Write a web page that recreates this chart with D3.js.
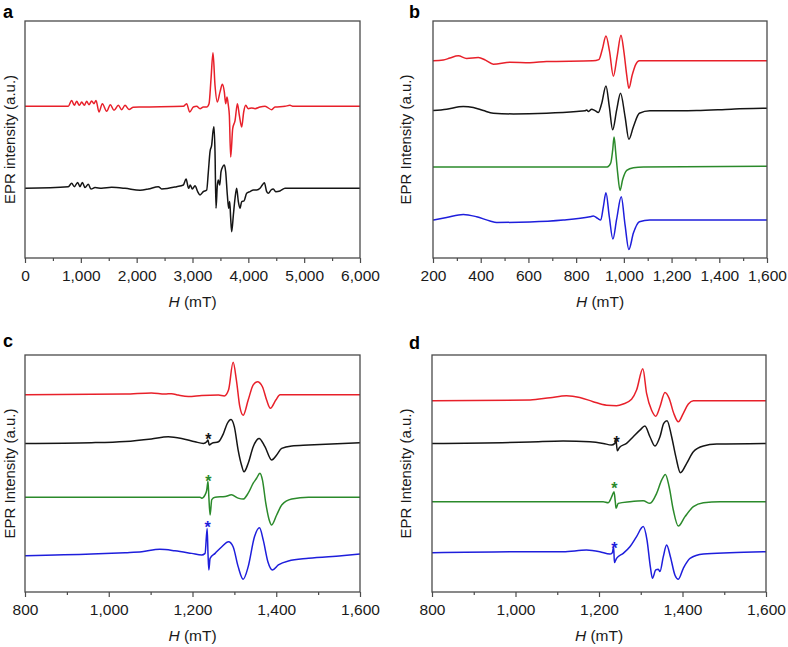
<!DOCTYPE html>
<html><head><meta charset="utf-8">
<script src="https://cdn.jsdelivr.net/npm/d3@7"></script>
<style>body{margin:0;background:#fff} svg{display:block} text{font-family:Arial,"Liberation Sans",sans-serif}</style>
</head><body><svg id="c" width="788" height="647"></svg>
<script>
// ---------- DATA (H in mT, intensity in a.u.) ----------
const aTicks = [0,1000,2000,3000,4000,5000,6000];
const bTicks = [200,400,600,800,1000,1200,1400,1600];
const cTicks = [800,1000,1200,1400,1600];
const dTicks = [800,1000,1200,1400,1600];

const aOffsets = [64, 29.4];
const aRed = [[0,0],[776,0],[836,2.5],[884,0.4],[925,2.1],[973,0.4],[1015,1.8],[1063,0.4],[1104,2.1],[1146,0.7],[1194,2.2],[1236,1.1],[1272,2.5],[1325,-2.4],[1385,1.1],[1463,-2.1],[1528,0.7],[1594,-1.7],[1672,0.4],[1731,-1.4],[1791,0.4],[1863,-1.3],[1940,-0.4],[2090,-0.3],[2836,0],[2895,1.1],[2950,-2.4],[3015,-0.3],[3075,0],[3135,-1],[3194,-0.3],[3254,-0.3],[3296,1.1],[3332,11.7],[3367,22.6],[3403,8.9],[3445,1.8],[3493,6.1],[3535,9.3],[3570,6.1],[3594,1.1],[3618,3.9],[3642,0.4],[3660,-3.8],[3684,-21.4],[3720,-9.4],[3762,-6.0],[3804,1.1],[3839,-3.8],[3881,-8.7],[3917,-2.4],[3953,0.4],[4000,-1],[4060,-0.7],[4120,-1],[4209,-0.3],[4299,0],[4418,-1.4],[4478,-0.3],[4657,0],[4746,0.4],[4806,0],[6000,0]];
const aBlack = [[0,0],[776,0.7],[836,2.1],[884,0.7],[943,2.5],[985,0.7],[1027,2.5],[1075,0.3],[1134,1.7],[1182,-0.3],[1254,0.3],[1373,0],[1552,0.4],[1791,0],[2060,-0.8],[2209,-0.3],[2388,0.7],[2448,-0.3],[2716,0.7],[2836,1.4],[2885,3.9],[2930,0],[2960,1.4],[2997,-0.3],[3045,1.1],[3093,-1.4],[3135,-2.8],[3194,-1.4],[3254,-0.7],[3284,7.0],[3314,15.5],[3344,18.3],[3367,23.9],[3385,26.0],[3403,15.5],[3421,-8.4],[3445,1.4],[3463,3.5],[3487,1.4],[3511,7.0],[3541,9.1],[3570,9.8],[3594,7.0],[3624,-2.8],[3648,-8.4],[3666,-5.6],[3684,-12.7],[3702,-18.3],[3732,-11.2],[3762,-4.2],[3791,0],[3821,-5.6],[3851,-8.4],[3881,-5.6],[3923,-5.3],[3970,-2.1],[4030,-1.4],[4090,-0.7],[4150,-0.7],[4209,0],[4251,1.4],[4287,2.4],[4329,-1.4],[4359,-2.1],[4406,-0.7],[4448,-0.3],[4490,-1.4],[4567,-1.1],[4657,0],[6000,0]];

const bOffsets = [83.2, 62.2, 38.4, 16.0];
const bRed = [[200,0],[243,0.3],[271,1.2],[306,2.1],[341,1.0],[390,1.4],[420,0.3],[453,-1.4],[523,-0.6],[606,-0.8],[676,-0.3],[870,0],[895,0.5],[910,5],[925,10.5],[940,4],[956,-6.5],[972,2],[988,10.8],[1000,4],[1012,-6],[1021,-11.6],[1035,-6],[1050,-1.5],[1065,0],[1600,0]];
const bBlack = [[200,0],[257,0.6],[327,1.7],[369,1.3],[411,0],[453,-1.1],[537,-1.4],[676,-1.1],[802,-0.4],[837,-0.1],[844,0.3],[852,-0.4],[865,0.6],[879,0],[893,-0.8],[907,3.0],[925,10.4],[939,1.7],[953,-8.1],[970,0.3],[986,7.3],[1005,-2.5],[1021,-12.1],[1040,-6.8],[1065,-1.1],[1109,-0.1],[1305,0],[1450,0.6],[1584,1.0],[1600,1.0]];
const bGreen = [[200,0],[930,0],[945,1.7],[953,7],[959,12.7],[966,6],[974,-2.5],[984,-9.9],[995,-5.3],[1012,-1.4],[1040,-0.3],[1082,0],[1600,0.3]];
const bBlue = [[200,0],[257,1.1],[327,2.4],[383,1.4],[439,-0.4],[467,-1.0],[606,-0.8],[746,0],[858,1.4],[872,1.7],[890,0.7],[903,0],[914,5.6],[925,11.5],[939,1.4],[954,-8.0],[970,0.5],[989,9.8],[1005,-2],[1021,-12.4],[1040,-5.5],[1065,-0.7],[1109,0],[1600,0]];

const cOffsets = [83.2, 62.7, 40.0, 15.3];
const cRed = [[800,0],[1039,0.3],[1102,0.8],[1134,0.3],[1150,0.5],[1166,-0.1],[1190,-0.7],[1222,-0.3],[1262,-0.1],[1276,-0.5],[1286,2],[1297,13.7],[1305,6],[1313,-5],[1321,-8.6],[1333,-2.2],[1345,4.2],[1355,5.5],[1367,3.4],[1377,-2.2],[1386,-5.7],[1399,-2.2],[1409,0],[1600,0]];
const cBlack = [[800,0],[959,0.3],[1039,0.8],[1102,1.9],[1142,2.8],[1174,2.1],[1206,0.7],[1226,0],[1234,0.7],[1237,1.4],[1240,-0.7],[1246,0],[1262,0.7],[1274,4.2],[1283,8.4],[1292,10.1],[1300,7],[1309,-2.8],[1317,-9.1],[1323,-12.0],[1333,-8.4],[1345,-1.4],[1359,2.1],[1373,-1.4],[1389,-7.0],[1401,-4.9],[1413,-2.1],[1437,-1.1],[1477,-0.7],[1600,0.3]];
const cGreen = [[800,0],[1218,0],[1222,-0.4],[1230,1],[1234,3],[1237,6.6],[1239,0.3],[1242,-7.5],[1246,-1],[1254,0],[1278,0.3],[1293,1],[1309,-0.4],[1321,-0.8],[1333,1.7],[1345,5.9],[1353,8],[1361,10.1],[1367,7.3],[1375,-2.5],[1383,-9.5],[1389,-11.7],[1401,-7.5],[1413,-3.3],[1437,-0.8],[1477,0],[1600,0]];
const cBlue = [[800,0],[959,0.7],[1039,1.3],[1079,1.7],[1122,2.7],[1158,2.1],[1198,1],[1222,0.3],[1230,1],[1235,11.5],[1237,1],[1239,-6.0],[1242,-1.1],[1254,1],[1270,3.8],[1286,5.9],[1297,3.8],[1309,-4.6],[1321,-9.9],[1333,-4.6],[1348,8.0],[1360,11.8],[1369,6.6],[1380,-2.5],[1391,-6.0],[1405,-3.9],[1429,-2.2],[1477,-1.1],[1556,0],[1600,0.7]];
const cStars = [[1238,65.8,1],[1238,48.1,2],[1236,28.7,3]];

const dOffsets = [80.7, 62.7, 38.1, 16.6];
const dRed = [[800,0],[1035,0.3],[1083,1.3],[1122,2.1],[1154,1.4],[1186,-0.4],[1218,-1.9],[1242,-2.1],[1258,-1.4],[1278,0.6],[1290,4.5],[1305,13.5],[1314,3.1],[1326,-4.0],[1336,-6.5],[1346,-2.5],[1358,3.5],[1368,1],[1379,-5.3],[1390,-8.9],[1402,-5.3],[1414,-1.4],[1426,0],[1600,0]];
const dBlack = [[800,0],[1035,0.6],[1114,1.0],[1178,0.7],[1210,0],[1230,-0.7],[1238,0],[1240,2.1],[1244,-3.1],[1249,-1.7],[1266,0],[1282,2.8],[1298,5.6],[1310,7.3],[1322,2.8],[1334,-1.1],[1346,2.8],[1355,8.4],[1363,9.6],[1374,2.8],[1384,-5.6],[1395,-12.4],[1410,-8.4],[1426,-3.5],[1450,-1.1],[1482,-0.3],[1600,0]];
const dGreen = [[800,0],[1210,0],[1222,-0.4],[1226,0.4],[1232,2.8],[1236,4.2],[1239,0],[1241,-2.8],[1246,-0.7],[1274,0],[1306,0.4],[1322,-0.7],[1338,3.5],[1350,9.1],[1359,11.5],[1368,6.3],[1378,-3.5],[1390,-10.3],[1406,-6.3],[1426,-2.1],[1450,-0.4],[1490,0],[1600,0]];
const dBlue = [[800,0],[1035,0.4],[1114,0.4],[1170,1.1],[1202,0.4],[1226,-0.6],[1232,0],[1235,2.5],[1237,-4.2],[1242,-2.4],[1258,-0.3],[1274,2.5],[1290,6.8],[1306,11.0],[1315,5.3],[1323,-6],[1328,-10.8],[1336,-7.3],[1342,-7],[1346,-8],[1354,-1.7],[1362,3.2],[1371,-1.7],[1382,-9.5],[1390,-11.2],[1402,-6.6],[1418,-2.4],[1450,-0.6],[1513,0],[1600,0.4]];
const dStars = [[1242,64.6,1],[1237,45.0,2],[1237,19.8,3]];

// ---------- LAYOUT / STYLE ----------
const colors = ["#e8202a","#151515","#2b8a2b","#1e1edc"];
const panels = [
  {label:"a", lx:3, ly:18, x0:25, x1:360, y0:21, y1:258, domain:[0,6000], ticks:aTicks, minorStep:500,
   series:[aRed,aBlack], offsets:aOffsets, cols:[0,1], stars:[], ylab:"EPR intensity (a.u.)", ylx:10},
  {label:"b", lx:409, ly:18, x0:433, x1:767, y0:21, y1:258, domain:[200,1600], ticks:bTicks, minorStep:100,
   series:[bRed,bBlack,bGreen,bBlue], offsets:bOffsets, cols:[0,1,2,3], stars:[], ylab:"EPR Intensity (a.u.)", ylx:406},
  {label:"c", lx:3, ly:347, x0:25, x1:360, y0:355, y1:592, domain:[800,1600], ticks:cTicks, minorStep:100,
   series:[cRed,cBlack,cGreen,cBlue], offsets:cOffsets, cols:[0,1,2,3], stars:cStars, ylab:"EPR Intensity (a.u.)", ylx:10},
  {label:"d", lx:409, ly:349, x0:432, x1:766, y0:355, y1:592, domain:[800,1600], ticks:dTicks, minorStep:100,
   series:[dRed,dBlack,dGreen,dBlue], offsets:dOffsets, cols:[0,1,2,3], stars:dStars, ylab:"EPR Intensity (a.u.)", ylx:406}
];

const svg = d3.select("#c");
const fmt = d3.format(",");
const frameCol = "#4a4a4a";

panels.forEach(p => {
  const g = svg.append("g");
  const x = d3.scaleLinear().domain(p.domain).range([p.x0, p.x1]);
  const y = d3.scaleLinear().domain([0,100]).range([p.y1, p.y0]);

  const clipId = "clip" + p.label;
  svg.append("clipPath").attr("id", clipId).append("rect")
    .attr("x", p.x0).attr("y", p.y0).attr("width", p.x1 - p.x0).attr("height", p.y1 - p.y0);
  p.series.forEach((s, i) => {
    const off = p.offsets[i];
    const line = d3.line().x(d => x(d[0])).y(d => y(off + d[1])).curve(d3.curveMonotoneX);
    g.append("path").datum(s).attr("d", line)
      .attr("fill","none").attr("stroke", colors[p.cols[i]]).attr("stroke-width",1.5)
      .attr("stroke-linejoin","round").attr("clip-path","url(#"+clipId+")");
  });

  p.stars.forEach(st => {
    g.append("text").attr("x", x(st[0])).attr("y", y(st[1]) + 9)
      .attr("text-anchor","middle").attr("font-size",16).attr("font-weight","bold")
      .attr("fill", colors[st[2]]).text("*");
  });

  g.append("rect").attr("x", p.x0).attr("y", p.y0).attr("width", p.x1 - p.x0).attr("height", p.y1 - p.y0)
    .attr("fill","none").attr("stroke", frameCol).attr("stroke-width",1.3);

  const axMajor = d3.axisBottom(x).tickValues(p.ticks).tickSize(5).tickPadding(7).tickFormat(fmt);
  const ga = g.append("g").attr("transform","translate(0,"+p.y1+")").call(axMajor);
  ga.select(".domain").remove();
  ga.selectAll("line").attr("stroke", frameCol).attr("stroke-width",1.2);
  ga.selectAll("text").attr("font-size",15.5).attr("fill","#1a1a1a").attr("font-family","Arial, Liberation Sans, sans-serif");
  const minor = d3.range(p.domain[0] + p.minorStep, p.domain[1], p.minorStep).filter(v => !p.ticks.includes(v));
  const axMinor = d3.axisBottom(x).tickValues(minor).tickSize(3).tickFormat("");
  const gm = g.append("g").attr("transform","translate(0,"+p.y1+")").call(axMinor);
  gm.select(".domain").remove();
  gm.selectAll("line").attr("stroke", frameCol).attr("stroke-width",1.2);

  const xt = g.append("text").attr("x", (p.x0 + p.x1)/2).attr("y", p.y1 + 49)
    .attr("text-anchor","middle").attr("font-size",15.5).attr("fill","#1a1a1a");
  xt.append("tspan").attr("font-style","italic").text("H");
  xt.append("tspan").text(" (mT)");

  g.append("text").attr("transform","translate("+(p.ylx+5)+","+((p.y0+p.y1)/2)+") rotate(-90)")
    .attr("text-anchor","middle").attr("font-size",15).attr("fill","#1a1a1a").text(p.ylab);

  g.append("text").attr("x", p.lx).attr("y", p.ly).attr("font-size",18).attr("font-weight","bold")
    .attr("fill","#000").text(p.label);
});
</script></body></html>
